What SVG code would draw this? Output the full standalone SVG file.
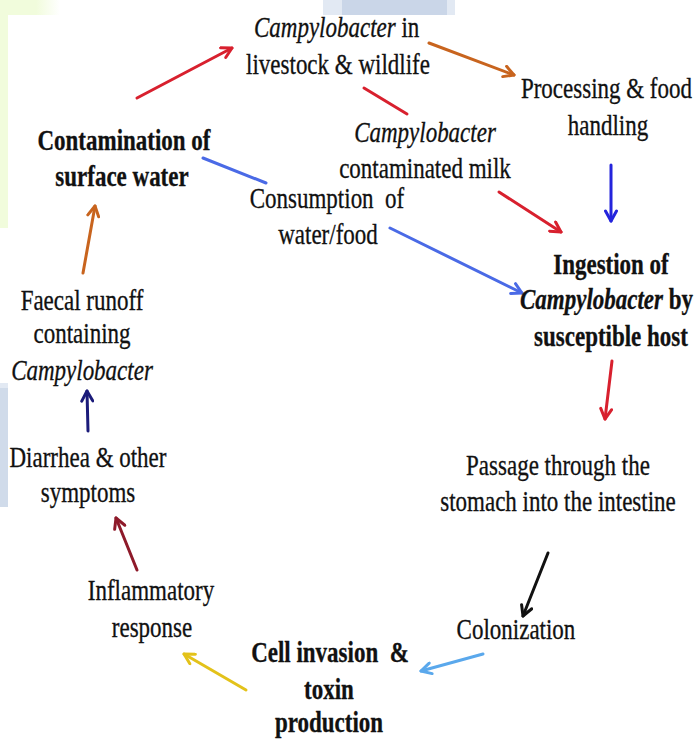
<svg xmlns="http://www.w3.org/2000/svg" width="696" height="740" viewBox="0 0 696 740">
<style>
.t{font-family:"Liberation Serif","Times New Roman",serif;font-size:23px;fill:#111;stroke:#111;stroke-width:0.25;text-anchor:middle}
.s{text-anchor:start}
.e{text-anchor:end}
.b{font-weight:bold}
.i{font-style:italic}
.c{fill:none;stroke-width:3;stroke-linecap:round}
</style>
<defs>
<marker id="mRed" viewBox="0 0 14 14" refX="12" refY="7" markerWidth="14" markerHeight="14" markerUnits="userSpaceOnUse" orient="auto"><path d="M2,1.5 L12,7 L2,12.5" fill="none" stroke="#d8202e" stroke-width="3" stroke-linecap="round" stroke-linejoin="round"/></marker>
<marker id="mOrange" viewBox="0 0 14 14" refX="12" refY="7" markerWidth="14" markerHeight="14" markerUnits="userSpaceOnUse" orient="auto"><path d="M2,1.5 L12,7 L2,12.5" fill="none" stroke="#c8641e" stroke-width="3" stroke-linecap="round" stroke-linejoin="round"/></marker>
<marker id="mBlue" viewBox="0 0 14 14" refX="12" refY="7" markerWidth="14" markerHeight="14" markerUnits="userSpaceOnUse" orient="auto"><path d="M2,1.5 L12,7 L2,12.5" fill="none" stroke="#4a6ae6" stroke-width="3" stroke-linecap="round" stroke-linejoin="round"/></marker>
<marker id="mBlue2" viewBox="0 0 14 14" refX="12" refY="7" markerWidth="14" markerHeight="14" markerUnits="userSpaceOnUse" orient="auto"><path d="M2,1.5 L12,7 L2,12.5" fill="none" stroke="#2424dc" stroke-width="3" stroke-linecap="round" stroke-linejoin="round"/></marker>
<marker id="mBlack" viewBox="0 0 14 14" refX="12" refY="7" markerWidth="14" markerHeight="14" markerUnits="userSpaceOnUse" orient="auto"><path d="M2,1.5 L12,7 L2,12.5" fill="none" stroke="#111" stroke-width="3" stroke-linecap="round" stroke-linejoin="round"/></marker>
<marker id="mLight" viewBox="0 0 14 14" refX="12" refY="7" markerWidth="14" markerHeight="14" markerUnits="userSpaceOnUse" orient="auto"><path d="M2,1.5 L12,7 L2,12.5" fill="none" stroke="#5aa8ec" stroke-width="3" stroke-linecap="round" stroke-linejoin="round"/></marker>
<marker id="mYellow" viewBox="0 0 14 14" refX="12" refY="7" markerWidth="14" markerHeight="14" markerUnits="userSpaceOnUse" orient="auto"><path d="M2,1.5 L12,7 L2,12.5" fill="none" stroke="#e3c21a" stroke-width="3" stroke-linecap="round" stroke-linejoin="round"/></marker>
<marker id="mDark" viewBox="0 0 14 14" refX="12" refY="7" markerWidth="14" markerHeight="14" markerUnits="userSpaceOnUse" orient="auto"><path d="M2,1.5 L12,7 L2,12.5" fill="none" stroke="#8e1a2a" stroke-width="3" stroke-linecap="round" stroke-linejoin="round"/></marker>
<marker id="mNavy" viewBox="0 0 14 14" refX="12" refY="7" markerWidth="14" markerHeight="14" markerUnits="userSpaceOnUse" orient="auto"><path d="M2,1.5 L12,7 L2,12.5" fill="none" stroke="#1b1b7a" stroke-width="3" stroke-linecap="round" stroke-linejoin="round"/></marker>
<linearGradient id="gGreen" x1="0" y1="0" x2="1" y2="0"><stop offset="0.6" stop-color="#f1fcdc"/><stop offset="1" stop-color="#ffffff"/></linearGradient>
</defs>
<rect width="696" height="740" fill="#ffffff"/>
<g id="background">
<rect x="0" y="0" width="60" height="15" fill="url(#gGreen)"/>
<rect x="0" y="0" width="8" height="228" fill="#f1fcdc"/>
<rect x="323" y="0" width="132" height="15" fill="#e2e9f3"/>
<rect x="342" y="0" width="105" height="15" fill="#cad6e8"/>
<rect x="0" y="383" width="8" height="124" fill="#e2e9f3"/>
<rect x="0" y="388" width="8" height="119" fill="#d0dbea"/>
</g>
<g id="connectors">
<path class="c" stroke="#d8202e" d="M137,98 L232,48" marker-end="url(#mRed)"/>
<path class="c" stroke="#c8641e" d="M429,43 L514,75" marker-end="url(#mOrange)"/>
<path class="c" stroke="#d8202e" d="M364,88 L407,114"/>
<path class="c" stroke="#4a6ae6" d="M203,158 L266,183"/>
<path class="c" stroke="#d8202e" d="M499,192 L561,232" marker-end="url(#mRed)"/>
<path class="c" stroke="#2424dc" d="M611,165 L611,221" marker-end="url(#mBlue2)"/>
<path class="c" stroke="#4a6ae6" d="M390,228 L522,293" marker-end="url(#mBlue)"/>
<path class="c" stroke="#d8202e" d="M612,361 L605,419" marker-end="url(#mRed)"/>
<path class="c" stroke="#111" d="M548,553 L523,616" marker-end="url(#mBlack)"/>
<path class="c" stroke="#5aa8ec" d="M483,654 L421,671" marker-end="url(#mLight)"/>
<path class="c" stroke="#e3c21a" d="M246,690 L184,654" marker-end="url(#mYellow)"/>
<path class="c" stroke="#8e1a2a" d="M137,570 L116,518" marker-end="url(#mDark)"/>
<path class="c" stroke="#1b1b7a" d="M88,431 L87,391" marker-end="url(#mNavy)"/>
<path class="c" stroke="#c8641e" d="M83,273 L95,206" marker-end="url(#mOrange)"/>
</g>
<g id="livestock">
<text class="t s" x="254" y="37" transform="matrix(1 0 0 1.27 0 -9.99)"><tspan class="i">Campylobacter</tspan> in</text>
<text class="t" x="338" y="74" transform="matrix(1 0 0 1.27 0 -19.98)">livestock &amp; wildlife</text>
</g>
<g id="processing">
<text class="t e" x="692" y="98" transform="matrix(1 0 0 1.27 0 -26.46)">Processing &amp; food</text>
<text class="t" x="608" y="135" transform="matrix(1 0 0 1.27 0 -36.45)">handling</text>
</g>
<g id="milk">
<text class="t i" x="425" y="142" transform="matrix(1 0 0 1.27 0 -38.34)">Campylobacter</text>
<text class="t" x="425" y="178" transform="matrix(1 0 0 1.27 0 -48.06)">contaminated milk</text>
</g>
<g id="contamination">
<text class="t b" x="124" y="150" transform="matrix(1 0 0 1.27 0 -40.5)">Contamination of</text>
<text class="t b" x="122" y="186" transform="matrix(1 0 0 1.27 0 -50.22)">surface water</text>
</g>
<g id="consumption">
<text class="t" x="327" y="208" transform="matrix(1 0 0 1.27 0 -56.16)" xml:space="preserve">Consumption  of</text>
<text class="t" x="328" y="244" transform="matrix(1 0 0 1.27 0 -65.88)">water/food</text>
</g>
<g id="ingestion">
<text class="t b" x="611" y="274" transform="matrix(1 0 0 1.27 0 -73.98)">Ingestion of</text>
<text class="t b e" x="693" y="309" transform="matrix(1 0 0 1.27 0 -83.43)"><tspan class="i">Campylobacter</tspan> by</text>
<text class="t b" x="611" y="346" transform="matrix(1 0 0 1.27 0 -93.42)">susceptible host</text>
</g>
<g id="passage">
<text class="t" x="558" y="475" transform="matrix(1 0 0 1.27 0 -128.25)">Passage through the</text>
<text class="t" x="558" y="511" transform="matrix(1 0 0 1.27 0 -137.97)">stomach into the intestine</text>
</g>
<g id="colonization">
<text class="t" x="516" y="639" transform="matrix(1 0 0 1.27 0 -172.53)">Colonization</text>
</g>
<g id="invasion">
<text class="t b" x="330" y="662" transform="matrix(1 0 0 1.27 0 -178.74)" xml:space="preserve">Cell invasion  &amp;</text>
<text class="t b" x="329" y="699" transform="matrix(1 0 0 1.27 0 -188.73)">toxin</text>
<text class="t b" x="329" y="732" transform="matrix(1 0 0 1.27 0 -197.64)">production</text>
</g>
<g id="inflammatory">
<text class="t" x="151" y="600" transform="matrix(1 0 0 1.27 0 -162)">Inflammatory</text>
<text class="t" x="152" y="637" transform="matrix(1 0 0 1.27 0 -171.99)">response</text>
</g>
<g id="diarrhea">
<text class="t" x="88" y="467" transform="matrix(1 0 0 1.27 0 -126.09)">Diarrhea &amp; other</text>
<text class="t" x="88" y="502" transform="matrix(1 0 0 1.27 0 -135.54)">symptoms</text>
</g>
<g id="faecal">
<text class="t" x="82" y="310" transform="matrix(1 0 0 1.27 0 -83.7)">Faecal runoff</text>
<text class="t" x="82" y="343" transform="matrix(1 0 0 1.27 0 -92.61)">containing</text>
<text class="t i" x="82" y="380" transform="matrix(1 0 0 1.27 0 -102.6)">Campylobacter</text>
</g>
</svg>
